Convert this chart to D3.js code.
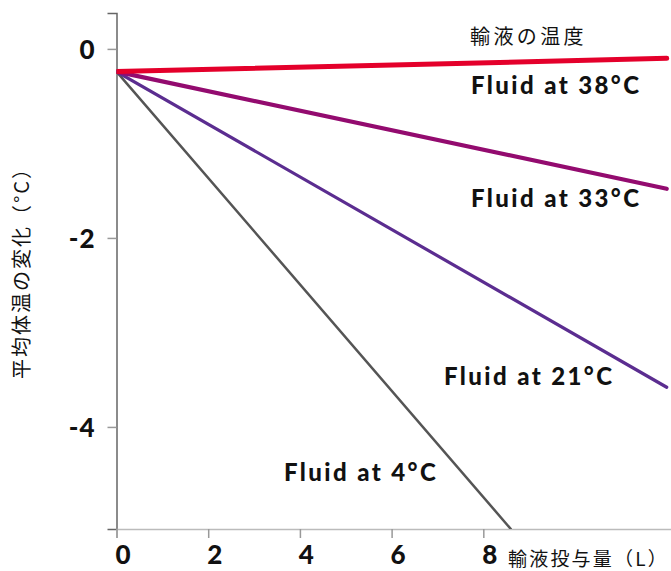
<!DOCTYPE html>
<html><head><meta charset="utf-8">
<script src="https://cdn.jsdelivr.net/npm/d3@7"></script>
<style>
html,body{margin:0;padding:0;background:#fff;}
svg{display:block;}
</style></head>
<body>
<svg id="chart" width="671" height="571"></svg>
<script>
// Data
const seriesNames = ["Fluid at 4°C", "Fluid at 21°C", "Fluid at 33°C", "Fluid at 38°C"];
const startX = [0, 0, 0, 0];
const startY = [-0.24, -0.24, -0.24, -0.24];
const endX = [8.6, 12, 12, 12];
const endY = [-5.08, -3.58, -1.48, -0.10];
const seriesColors = ["#555555", "#5b2d90", "#930b6f", "#e4002b"];
const seriesWidths = [2.5, 3.2, 4.2, 5];
const xTicks = [0, 2, 4, 6, 8];
const yTicks = [0, -2, -4];
const yLabel = "平均体温の変化（°C）";
const xLabel = "輸液投与量（L）";
const legendTitle = "輸液の温度";

const svg = d3.select("#chart");
const x = d3.scaleLinear().domain([0, 12.1]).range([116.5, 671.3]);
const y = d3.scaleLinear().domain([-5.08, 0.38]).range([529, 13]);

svg.append("defs").append("clipPath").attr("id","clip")
  .append("rect").attr("x", x(0)).attr("y", y(0.38)).attr("width", 671 - x(0)).attr("height", y(-5.08) - y(0.38));

const numFmt = d => String(d);

// axes
const yAxis = d3.axisLeft(y).tickValues(yTicks).tickSize(9).tickFormat(numFmt);
const gy = svg.append("g").attr("transform", `translate(${x(0)},0)`).call(yAxis);
gy.select(".domain").attr("stroke", "#666").attr("stroke-width", 1.5);
gy.selectAll(".tick line").attr("stroke", "#999").attr("stroke-width", 1.5);
gy.selectAll(".tick text").attr("font-family", "Lato, sans-serif").attr("font-weight", 900)
  .attr("font-size", 26).attr("letter-spacing", 1).attr("fill", "#111").attr("x", -21).attr("dy", "0.36em");

const xAxis = d3.axisBottom(x).tickValues(xTicks).tickSize(9).tickFormat(numFmt);
const gx = svg.append("g").attr("transform", `translate(0,${y(-5.08)})`).call(xAxis);
gx.select(".domain").attr("stroke", "#bbb").attr("stroke-width", 1.5);
gx.selectAll(".tick line").attr("stroke", "#999").attr("stroke-width", 1.5);
gx.selectAll(".tick text").attr("font-family", "Lato, sans-serif").attr("font-weight", 900)
  .attr("font-size", 26).attr("fill", "#111").attr("y", 17).attr("dx", 6).attr("dy", "0.71em");

// lines
const data = seriesNames.map((n, i) => ({
  name: n, color: seriesColors[i], w: seriesWidths[i],
  pts: [[startX[i], startY[i]], [endX[i], endY[i]]]
}));
const line = d3.line().x(d => x(d[0])).y(d => y(d[1]));
svg.append("g").attr("clip-path", "url(#clip)").selectAll("path").data(data).join("path")
  .attr("d", d => line(d.pts)).attr("fill", "none")
  .attr("stroke", d => d.color).attr("stroke-width", d => d.w).attr("stroke-linecap", "round");

// labels
const labelPos = [[284, 472], [444, 376], [471, 198], [471, 85]];
svg.append("g").selectAll("text").data(data).join("text")
  .attr("x", (d, i) => labelPos[i][0]).attr("y", (d, i) => labelPos[i][1])
  .attr("dy", "0.36em")
  .attr("font-family", "Lato, sans-serif").attr("font-weight", 900).attr("font-size", 24)
  .attr("letter-spacing", 2.4).attr("fill", "#111").text(d => d.name);

svg.append("text").attr("x", 470).attr("y", 37).attr("dy", "0.36em")
  .attr("font-family", "'Noto Sans CJK JP', sans-serif").attr("font-size", 20)
  .attr("letter-spacing", 3.4).attr("fill", "#111").text(legendTitle);

svg.append("text").attr("x", 508).attr("y", 559).attr("dy", "0.36em")
  .attr("font-family", "'Noto Sans CJK JP', sans-serif").attr("font-size", 19)
  .attr("letter-spacing", 2.2).attr("fill", "#111").text(xLabel);

svg.append("text").attr("transform", "translate(22,268) rotate(-90)")
  .attr("text-anchor", "middle").attr("dy", "0.36em")
  .attr("font-family", "'Noto Sans CJK JP', sans-serif").attr("font-size", 20)
  .attr("letter-spacing", 2).attr("fill", "#111").text(yLabel);
</script>
</body></html>
